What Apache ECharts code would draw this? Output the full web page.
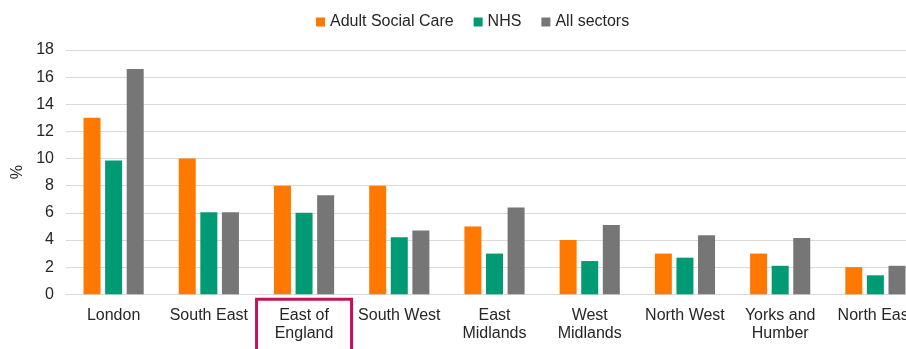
<!DOCTYPE html>
<html>
<head>
<meta charset="utf-8">
<style>
  html, body { margin: 0; padding: 0; background: #fff; }
  #chart { width: 906px; height: 349px; }
</style>
<script src="https://cdn.jsdelivr.net/npm/echarts@6/dist/echarts.min.js"></script>
</head>
<body>
<div id="chart"></div>
<script>
const categories = ['London', 'South East', 'East of\nEngland', 'South West', 'East\nMidlands', 'West\nMidlands', 'North West', 'Yorks and\nHumber', 'North East'];
const highlightedCategory = 'East of\nEngland';
const seriesNames = ['Adult Social Care', 'NHS', 'All sectors'];
const adultSocialCare = [13.0, 10.0, 8.0, 8.0, 5.0, 4.0, 3.0, 3.0, 2.0];
const nhs = [9.85, 6.05, 6.0, 4.2, 3.0, 2.45, 2.7, 2.1, 1.4];
const allSectors = [16.6, 6.05, 7.3, 4.7, 6.4, 5.1, 4.35, 4.15, 2.1];
const yTicks = [0, 2, 4, 6, 8, 10, 12, 14, 16, 18];
const colors = ['#FF7900', '#009B74', '#767676'];

const font = 'Liberation Sans, Arial, sans-serif';
const textColor = '#262626';

const chart = echarts.init(document.getElementById('chart'), null, { renderer: 'canvas' });

const catData = categories.map(c => c === highlightedCategory
  ? { value: c, textStyle: { borderColor: '#C8105A', borderWidth: 3 } }
  : c);

const valueSets = [adultSocialCare, nhs, allSectors];

chart.setOption({
  animation: false,
  color: colors,
  textStyle: { fontFamily: font },
  legend: {
    top: 9,
    left: 311,
    itemWidth: 9,
    itemHeight: 9,
    itemGap: 20,
    icon: 'rect',
    textStyle: { fontFamily: font, fontSize: 16, color: textColor },
    data: seriesNames
  },
  grid: {
    left: 66,
    top: 50,
    width: 857,
    height: 244.3,
    containLabel: false,
    outerBoundsMode: 'none'
  },
  xAxis: {
    type: 'category',
    data: catData,
    axisLine: { show: true, lineStyle: { color: '#d9d9d9', width: 1 } },
    axisTick: { show: false },
    axisLabel: {
      interval: 0,
      margin: 5,
      fontFamily: font,
      fontSize: 16,
      color: textColor,
      lineHeight: 18,
      width: 95,
      align: 'center',
      padding: [7, 0, 12, 0],
      borderColor: 'transparent',
      borderWidth: 0,
      hideOverlap: false
    }
  },
  yAxis: {
    type: 'value',
    min: yTicks[0],
    max: yTicks[yTicks.length - 1],
    interval: 2,
    name: '%',
    nameLocation: 'middle',
    nameRotate: 90,
    nameGap: 37,
    nameTextStyle: { fontFamily: font, fontSize: 16, color: textColor },
    axisLine: { show: false },
    axisTick: { show: false },
    axisLabel: { margin: 12, fontFamily: font, fontSize: 16, color: textColor },
    splitLine: { lineStyle: { color: '#d9d9d9', width: 1 } }
  },
  series: seriesNames.map((name, i) => ({
    name: name,
    type: 'bar',
    data: valueSets[i],
    barWidth: 17,
    barGap: '27%',
    itemStyle: { color: colors[i] }
  }))
});
</script>
</body>
</html>
